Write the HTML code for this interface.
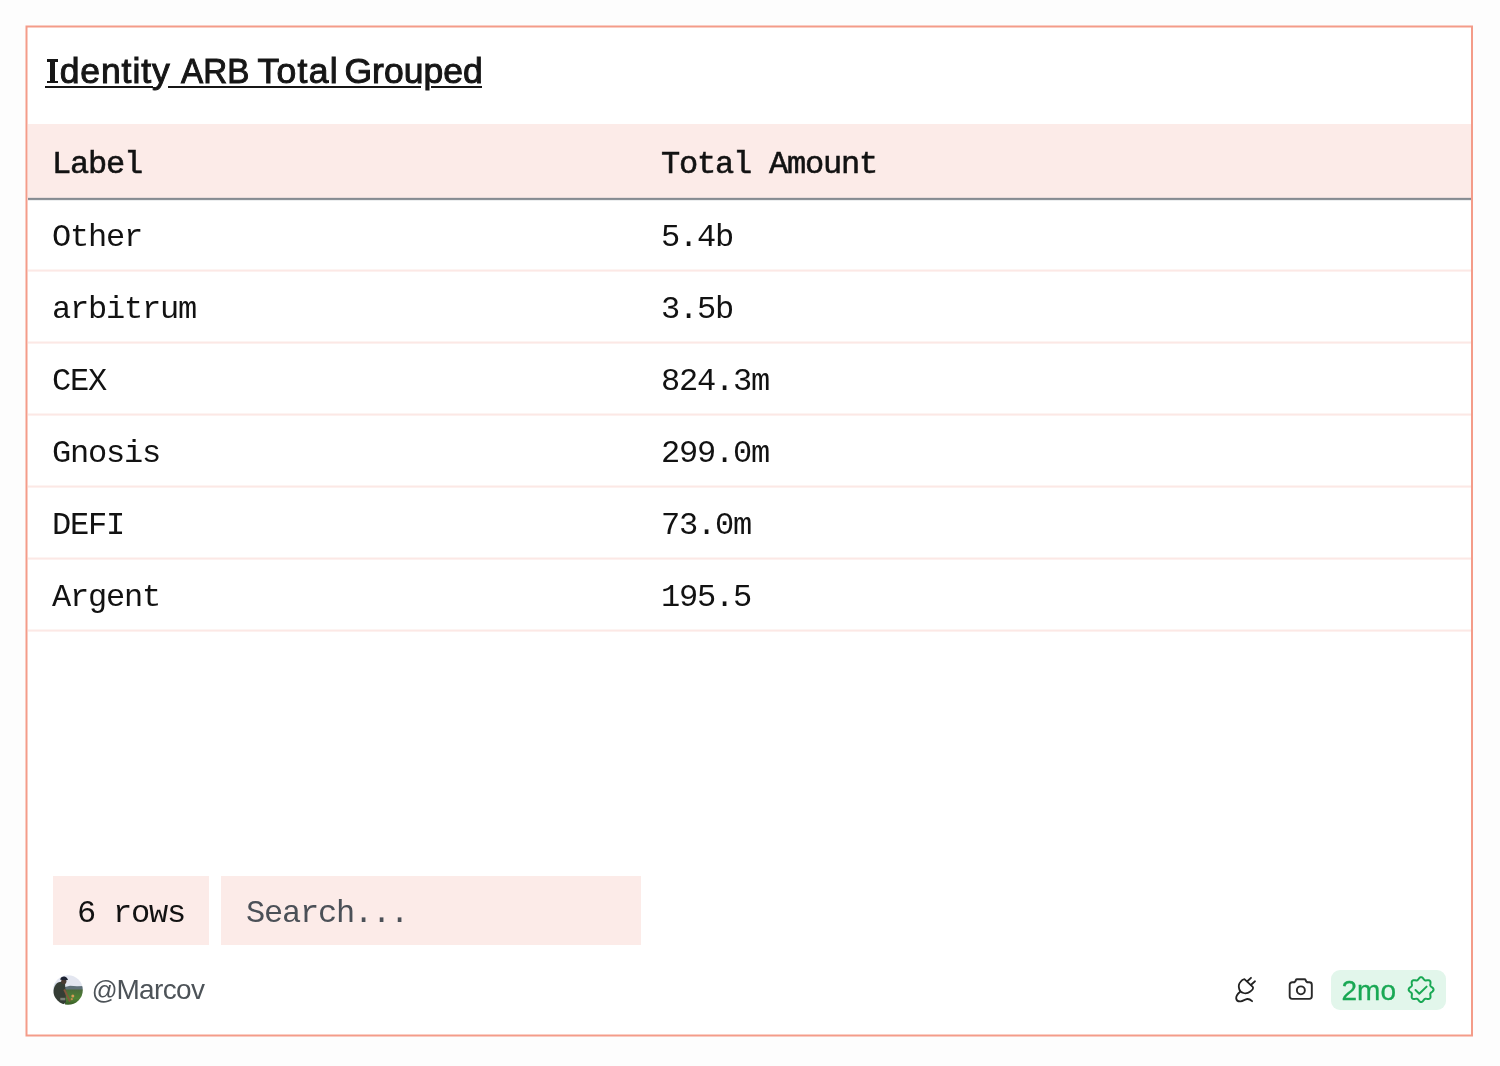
<!DOCTYPE html>
<html>
<head>
<meta charset="utf-8">
<style>
html,body{margin:0;padding:0;}
body{width:1500px;height:1066px;background:#fdfdfd;position:relative;overflow:hidden;font-family:"Liberation Sans",sans-serif;}
.abs{position:absolute;}
.card{position:absolute;left:26px;top:26px;width:1447px;height:1010px;background:#fff;}
.tw{position:absolute;top:49px;font-family:"Liberation Sans",sans-serif;font-size:35.5px;line-height:44px;color:#161616;white-space:nowrap;-webkit-text-stroke:1.0px #161616;transform-origin:0 0;}
.ul{position:absolute;top:86px;height:2px;background:#161616;}
.hdr{position:absolute;left:28px;top:124px;width:1443px;height:73px;background:#fcebe8;}
.hline{position:absolute;left:28px;top:197px;width:1443px;height:4px;background:linear-gradient(to bottom,#e9dcdb 0 1px,#868b91 1px 2px,#8d9298 2px 3px,#eceeef 3px 4px);}
.sep{position:absolute;left:28px;width:1443px;height:3px;background:linear-gradient(to bottom,#fdf4f2 0 1px,#fce8e5 1px 2px,#fdf1ef 2px 3px);}
.mono{position:absolute;font-family:"Liberation Mono",monospace;font-size:32px;letter-spacing:-1.2px;line-height:40px;color:#121212;white-space:pre;}
.h{-webkit-text-stroke:0.55px #121212;}
.c1{left:52px;}
.c2{left:661px;}
.box{position:absolute;top:876px;height:69px;background:#fcebe8;}
</style>
</head>
<body>
<div class="card"></div>
<svg class="abs" style="left:0;top:0" width="1500" height="1066" viewBox="0 0 1500 1066"><rect x="26.5" y="26.5" width="1445.5" height="1009" fill="none" stroke="#f49c89" stroke-width="2"/></svg>
<div id="wrap" style="position:absolute;left:0;top:0;width:1500px;height:1066px;will-change:transform;">
<div class="abs" style="left:50.2px;top:59px;width:4.4px;height:24.4px;background:#161616"></div>
<div class="abs" style="left:46.8px;top:59px;width:10.9px;height:2.8px;background:#161616"></div>
<div class="abs" style="left:46.8px;top:80.5px;width:10.9px;height:2.9px;background:#161616"></div>
<div class="tw" style="left:59.7px;letter-spacing:0.9px">dentity</div>
<div class="tw" style="left:181px;transform:scaleX(0.936)">ARB</div>
<div class="tw" style="left:257.5px;letter-spacing:1.3px">Total</div>
<div class="tw" style="left:344.5px;letter-spacing:0px">Grouped</div>
<div class="ul" style="left:45px;width:108px"></div>
<div class="ul" style="left:168px;width:253px"></div>
<div class="ul" style="left:431px;width:51px"></div>
<div class="hdr"></div>
<div class="hline"></div>
<div class="mono h c1" style="top:144.5px">Label</div>
<div class="mono h c2" style="top:144.5px">Total Amount</div>

<div class="mono c1" style="top:218px">Other</div><div class="mono c2" style="top:218px">5.4b</div>
<div class="sep" style="top:269px"></div>
<div class="mono c1" style="top:290px">arbitrum</div><div class="mono c2" style="top:290px">3.5b</div>
<div class="sep" style="top:341px"></div>
<div class="mono c1" style="top:362px">CEX</div><div class="mono c2" style="top:362px">824.3m</div>
<div class="sep" style="top:413px"></div>
<div class="mono c1" style="top:434px">Gnosis</div><div class="mono c2" style="top:434px">299.0m</div>
<div class="sep" style="top:485px"></div>
<div class="mono c1" style="top:506px">DEFI</div><div class="mono c2" style="top:506px">73.0m</div>
<div class="sep" style="top:557px"></div>
<div class="mono c1" style="top:578px">Argent</div><div class="mono c2" style="top:578px">195.5</div>
<div class="sep" style="top:629px"></div>

<div class="box" style="left:53px;width:156px;"></div>
<div class="box" style="left:221px;width:420px;"></div>
<div class="mono" style="left:77px;top:893.5px">6 rows</div>
<div class="mono" style="left:246px;top:893.5px;color:#4b5057">Search...</div>

<svg class="abs" style="left:52.5px;top:975px" width="30" height="30" viewBox="0 0 30 30">
  <defs><clipPath id="av"><circle cx="15" cy="15" r="14.8"/></clipPath>
  <linearGradient id="gr" x1="0" y1="0" x2="0" y2="1"><stop offset="0" stop-color="#4a6a3a"/><stop offset="0.5" stop-color="#4f8234"/><stop offset="1" stop-color="#2f4a22"/></linearGradient>
  <filter id="bl" x="-10%" y="-10%" width="120%" height="120%"><feGaussianBlur stdDeviation="0.6"/></filter></defs>
  <g clip-path="url(#av)"><g filter="url(#bl)">
    <rect x="-2" y="-2" width="34" height="34" fill="#e3e6f0"/>
    <rect x="-2" y="8" width="8" height="10" fill="#d4dde8"/>
    <path d="M12 12 L17 10.8 L24 11.2 L32 11 L32 16 L12 16 Z" fill="#5e7078"/>
    <rect x="12" y="14.5" width="20" height="18" fill="url(#gr)"/>
    <path d="M5 7.5 C8 6 11 6.5 12 8.5 L12.5 16 L13 27 L9 31 L2 31 C0 26 -0.5 18 1 13 C2 10 3.5 8.3 5 7.5 Z" fill="#363d34"/>
    <ellipse cx="10.8" cy="6.3" rx="2.6" ry="2.9" fill="#4a3a30"/>
    <path d="M7.2 4.8 C7.5 2 10 1.2 12.2 1.8 C13.6 2.2 14.6 3.5 15 5 L12 5.2 Z" fill="#1d2332"/>
    <path d="M11.2 14.5 L17 26.5" stroke="#86553c" stroke-width="1.8"/>
    <circle cx="19.8" cy="21" r="1.5" fill="#d89a58"/>
    <circle cx="18.8" cy="24.2" r="1.1" fill="#c48c4e"/>
    <rect x="7.3" y="22.8" width="5" height="2.5" fill="#8e928a" opacity="0.8"/>
  </g></g>
</svg>
<div class="abs" style="left:91.8px;top:974px;font-size:25.5px;line-height:32px;color:#4d5358;white-space:nowrap">@</div>
<div class="abs" style="left:116.4px;top:973.8px;font-size:28px;line-height:32px;letter-spacing:-0.66px;color:#4d5358;white-space:nowrap">Marcov</div>

<svg class="abs" style="left:1230px;top:972px" width="30" height="34" viewBox="1230 972 30 34" fill="none" stroke="#222" stroke-width="1.8" stroke-linecap="round" stroke-linejoin="round">
  <path d="M1244.4,979.2 L1252.7,986.8 C1253.8,988.2 1252.5,990 1250.3,991.5 C1248,993.2 1245.5,993.6 1243.5,993 C1241.5,992.5 1239.8,991.2 1239.2,989 C1238.5,986.6 1238.8,983.8 1240.4,982 C1241.5,980.5 1243,979.4 1244.4,979.2 Z"/>
  <path d="M1247.6,981 L1251.0,977.8"/>
  <path d="M1251.1,984.7 L1255.0,981.3"/>
  <path d="M1239.9,992 C1237.5,994 1236,996.5 1236.2,998.5 C1236.5,1000.5 1238.5,1001.6 1240.7,1001.4 C1243,1001.2 1245,999.3 1247.2,999 C1249,998.8 1250.8,1000 1252.1,1001.2"/>
</svg>

<svg class="abs" style="left:1286.2px;top:974.4px" width="29.5" height="29.5" viewBox="0 0 24 24" fill="none" stroke="#2a2a2a" stroke-width="1.55" stroke-linecap="round" stroke-linejoin="round">
  <path d="M5 6.7 H6 C7.2 6.7 7.8 5.8 8 5 C8.2 4.5 8.5 4.3 9 4.3 H15 C15.5 4.3 15.8 4.5 16 5 C16.2 5.8 16.8 6.7 18 6.7 H19 A2 2 0 0 1 21 8.7 V18.2 A2 2 0 0 1 19 20.2 H5 A2 2 0 0 1 3 18.2 V8.7 A2 2 0 0 1 5 6.7 Z"/>
  <circle cx="12.1" cy="13.3" r="3.25"/>
</svg>

<div class="abs" style="left:1331px;top:970px;width:115px;height:40px;border-radius:9px;background:#e2f6eb;"></div>
<div class="abs" style="left:1341.5px;top:974.5px;font-size:28px;line-height:32px;color:#19a854;white-space:nowrap;-webkit-text-stroke:0.3px #19a854">2mo</div>
<svg id="seal" class="abs" style="left:1406px;top:975px" width="30" height="30" viewBox="0 0 30 30" fill="none" stroke="#19a854" stroke-width="2" stroke-linecap="round" stroke-linejoin="round">
  <path d="M15.10 2.15 L15.59 2.22 L16.06 2.42 L16.51 2.73 L16.92 3.12 L17.29 3.57 L17.64 4.02 L17.96 4.45 L18.28 4.82 L18.60 5.12 L18.95 5.32 L19.33 5.42 L19.77 5.44 L20.25 5.40 L20.78 5.32 L21.35 5.25 L21.93 5.20 L22.50 5.21 L23.04 5.31 L23.51 5.50 L23.90 5.80 L24.20 6.19 L24.39 6.66 L24.49 7.20 L24.50 7.77 L24.45 8.35 L24.38 8.92 L24.30 9.45 L24.26 9.93 L24.28 10.37 L24.38 10.75 L24.58 11.10 L24.88 11.42 L25.25 11.74 L25.68 12.06 L26.13 12.41 L26.58 12.78 L26.97 13.19 L27.28 13.64 L27.48 14.11 L27.55 14.60 L27.48 15.09 L27.28 15.56 L26.97 16.01 L26.58 16.42 L26.13 16.79 L25.68 17.14 L25.25 17.46 L24.88 17.78 L24.58 18.10 L24.38 18.45 L24.28 18.83 L24.26 19.27 L24.30 19.75 L24.38 20.28 L24.45 20.85 L24.50 21.43 L24.49 22.00 L24.39 22.54 L24.20 23.01 L23.90 23.40 L23.51 23.70 L23.04 23.89 L22.50 23.99 L21.93 24.00 L21.35 23.95 L20.78 23.88 L20.25 23.80 L19.77 23.76 L19.33 23.78 L18.95 23.88 L18.60 24.08 L18.28 24.38 L17.96 24.75 L17.64 25.18 L17.29 25.63 L16.92 26.08 L16.51 26.47 L16.06 26.78 L15.59 26.98 L15.10 27.05 L14.61 26.98 L14.14 26.78 L13.69 26.47 L13.28 26.08 L12.91 25.63 L12.56 25.18 L12.24 24.75 L11.92 24.38 L11.60 24.08 L11.25 23.88 L10.87 23.78 L10.43 23.76 L9.95 23.80 L9.42 23.88 L8.85 23.95 L8.27 24.00 L7.70 23.99 L7.16 23.89 L6.69 23.70 L6.30 23.40 L6.00 23.01 L5.81 22.54 L5.71 22.00 L5.70 21.43 L5.75 20.85 L5.82 20.28 L5.90 19.75 L5.94 19.27 L5.92 18.83 L5.82 18.45 L5.62 18.10 L5.32 17.78 L4.95 17.46 L4.52 17.14 L4.07 16.79 L3.62 16.42 L3.23 16.01 L2.92 15.56 L2.72 15.09 L2.65 14.60 L2.72 14.11 L2.92 13.64 L3.23 13.19 L3.62 12.78 L4.07 12.41 L4.52 12.06 L4.95 11.74 L5.32 11.42 L5.62 11.10 L5.82 10.75 L5.92 10.37 L5.94 9.93 L5.90 9.45 L5.82 8.92 L5.75 8.35 L5.70 7.77 L5.71 7.20 L5.81 6.66 L6.00 6.19 L6.30 5.80 L6.69 5.50 L7.16 5.31 L7.70 5.21 L8.27 5.20 L8.85 5.25 L9.42 5.32 L9.95 5.40 L10.43 5.44 L10.87 5.42 L11.25 5.32 L11.60 5.12 L11.92 4.82 L12.24 4.45 L12.56 4.02 L12.91 3.57 L13.28 3.12 L13.69 2.73 L14.14 2.42 L14.61 2.22 Z"/>
  <path d="M9.5 15 L13.3 18.7 L20.6 11.6"/>
</svg>

</div>
</body>
</html>
